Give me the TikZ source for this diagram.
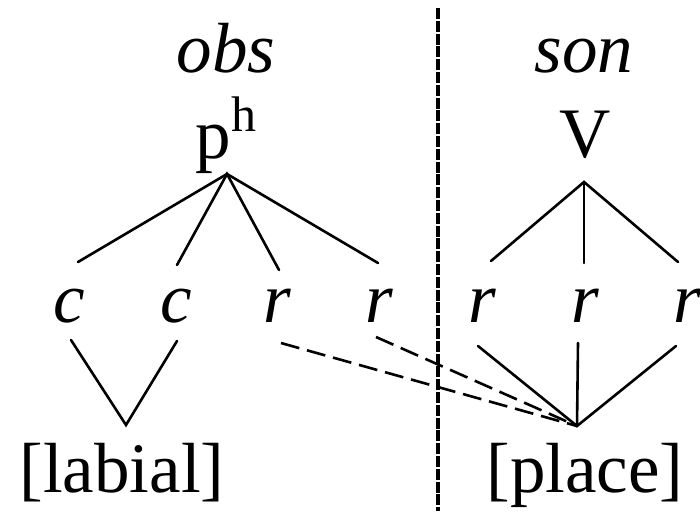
\documentclass[tikz,border=0pt]{standalone}
\usepackage{fontspec}
\setmainfont{Liberation Serif}
\begin{document}
\begin{tikzpicture}[x=1pt,y=-1pt,
  lbl/.style={inner sep=0pt, anchor=base, font=\fontsize{71}{80}\selectfont},
  ilbl/.style={inner sep=0pt, anchor=base, font=\fontsize{71}{80}\selectfont\itshape},
  edge/.style={line width=2.6pt, line cap=round},
  dashedge/.style={line width=2.6pt, dash pattern=on 19pt off 8pt},
  divider/.style={line width=3.4pt, dash pattern=on 11pt off 1.8pt}]
\useasboundingbox (0,0) rectangle (700,511);
% labels
\node[ilbl] (obs) at (226,72) {obs};
\node[lbl] (ph) at (226,158) {p{\fontsize{50}{50}\selectfont\raisebox{27pt}{h}}};
\node[ilbl] (son) at (584,72) {son};
\node[lbl] (V) at (585,157) {V};
\node[ilbl] (c1) at (69,322) {c};
\node[ilbl] (c2) at (176,322) {c};
\node[ilbl] (r1) at (277,322) {r};
\node[ilbl] (r2) at (379,322) {r};
\node[ilbl] (r3) at (482,322) {r};
\node[ilbl] (r4) at (585,322) {r};
\node[ilbl] (r5) at (687,322) {r};
\node[lbl] (labial) at (122,492) {[labial]};
\node[lbl] (place) at (585,492) {[place]};
% connector end points
\coordinate (pA) at (227,174);
\coordinate (c1t) at (78,262);
\coordinate (c2t) at (177,265);
\coordinate (r1t) at (279,270);
\coordinate (r2t) at (378,263);
\coordinate (vA) at (584,182);
\coordinate (r3t) at (491,261);
\coordinate (r4t) at (584,263);
\coordinate (r5t) at (678,262);
\coordinate (c1b) at (71,340);
\coordinate (c2b) at (177,341);
\coordinate (labA) at (126,425);
\coordinate (r1b) at (281,343);
\coordinate (r2b) at (376,337);
\coordinate (r3b) at (478,346);
\coordinate (r4b) at (578,343);
\coordinate (r5b) at (676,346);
\coordinate (plA) at (577,426);
\coordinate (divT) at (438,8);
\coordinate (divB) at (438,511);
% tree lines
\draw[edge] (c1t) -- (pA) -- (r2t);
\draw[edge] (c2t) -- (pA) -- (r1t);
\draw[edge] (r3t) -- (vA) -- (r5t);
\draw[edge] (vA) -- (r4t);
\draw[edge] (c1b) -- (labA) -- (c2b);
\draw[edge] (r3b) -- (plA) -- (r5b);
\draw[edge] (r4b) -- (plA);
\draw[dashedge] (r1b) -- (plA);
\draw[dashedge] (r2b) -- (plA);
\draw[divider] (divT) -- (divB);
\end{tikzpicture}
\end{document}
